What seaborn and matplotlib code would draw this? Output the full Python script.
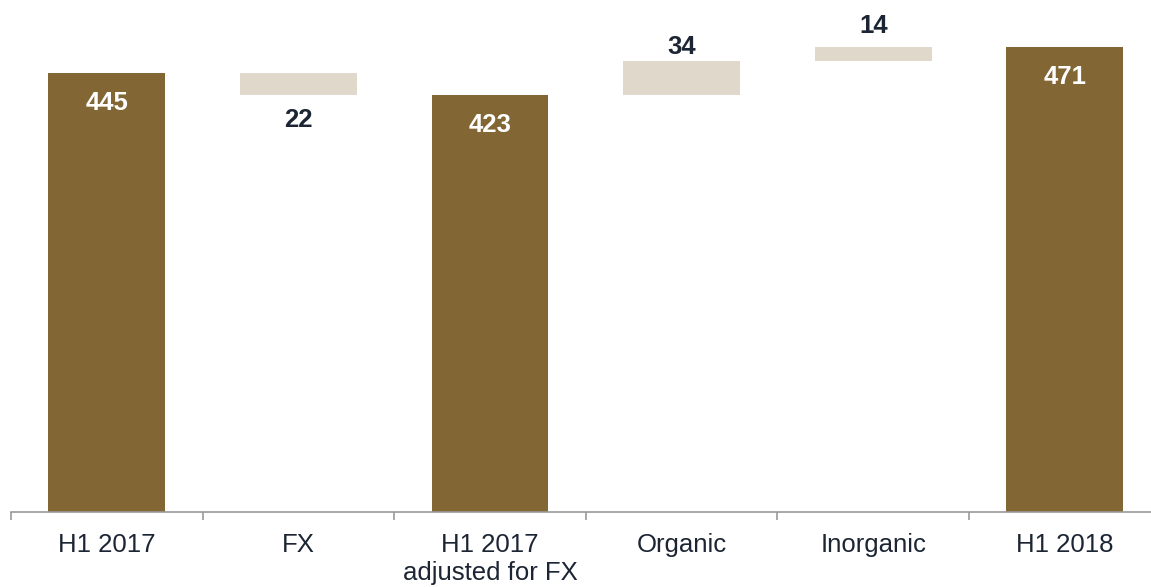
import numpy as np
import pandas as pd
import matplotlib
matplotlib.use("Agg")
import matplotlib.pyplot as plt
import seaborn as sns

categories = ["H1 2017", "FX", "H1 2017\nadjusted for FX", "Organic", "Inorganic", "H1 2018"]
values = [445, -22, 423, 34, 14, 471]
kinds = ["total", "change", "total", "change", "change", "total"]

DARK = "#826735"
LIGHT = "#e0d9cb"
TEXT = "#1c2533"
AXIS = "#9a9a9a"

# waterfall bases from the running total
bottoms = []
running = 0
for v, k in zip(values, kinds):
    if k == "total":
        bottoms.append(0)
        running = v
    else:
        bottoms.append(running)
        running += v
df = pd.DataFrame({"cat": categories, "value": values, "base": bottoms, "kind": kinds})

sns.set_theme(style="white")
plt.rcParams["font.family"] = ["Liberation Sans", "DejaVu Sans"]

fig = plt.figure(figsize=(11.51, 5.87), dpi=100)
ax = fig.add_axes([11 / 1151, 75 / 587, 6 * 191.6 / 1151, 512 / 587])

sns.barplot(data=df, x="cat", y="value", bottom=df["base"].values, color=DARK,
            width=0.61, errorbar=None, linewidth=0, ax=ax, order=categories)
for patch, k in zip(ax.patches, kinds):
    patch.set_facecolor(DARK if k == "total" else LIGHT)

ax.set_xlim(-0.5, 5.5)
ax.set_ylim(0, 519)

# value labels
px = 0.72  # points per pixel
for i, (v, b, k) in enumerate(zip(values, bottoms, kinds)):
    if k == "total":
        ax.annotate(str(v), (i, v), xytext=(0, -30 * px), textcoords="offset points",
                    ha="center", va="center", color="white", fontsize=18.5, fontweight="bold")
    elif v < 0:
        ax.annotate(str(abs(v)), (i, b + v), xytext=(0, -25 * px), textcoords="offset points",
                    ha="center", va="center", color=TEXT, fontsize=18.5, fontweight="bold")
    else:
        off = 14 if i == 3 else 21
        ax.annotate(str(v), (i, b + v), xytext=(0, off * px), textcoords="offset points",
                    ha="center", va="center", color=TEXT, fontsize=18.5, fontweight="bold")

for s in ["top", "right", "left"]:
    ax.spines[s].set_visible(False)
ax.spines["bottom"].set_color(AXIS)
ax.spines["bottom"].set_linewidth(1.2)
ax.set_yticks([])
ax.set_xlabel("")
ax.set_ylabel("")
ax.set_xticks(np.arange(-0.5, 6, 1), minor=True)
ax.tick_params(axis="x", which="major", length=0, pad=15, labelsize=18.5, labelcolor=TEXT)
ax.tick_params(axis="x", which="minor", length=6, width=1.2, color=AXIS, direction="out", bottom=True)
ax.set_xticklabels(categories, linespacing=1.2)

fig.savefig("out.png", dpi=100)
